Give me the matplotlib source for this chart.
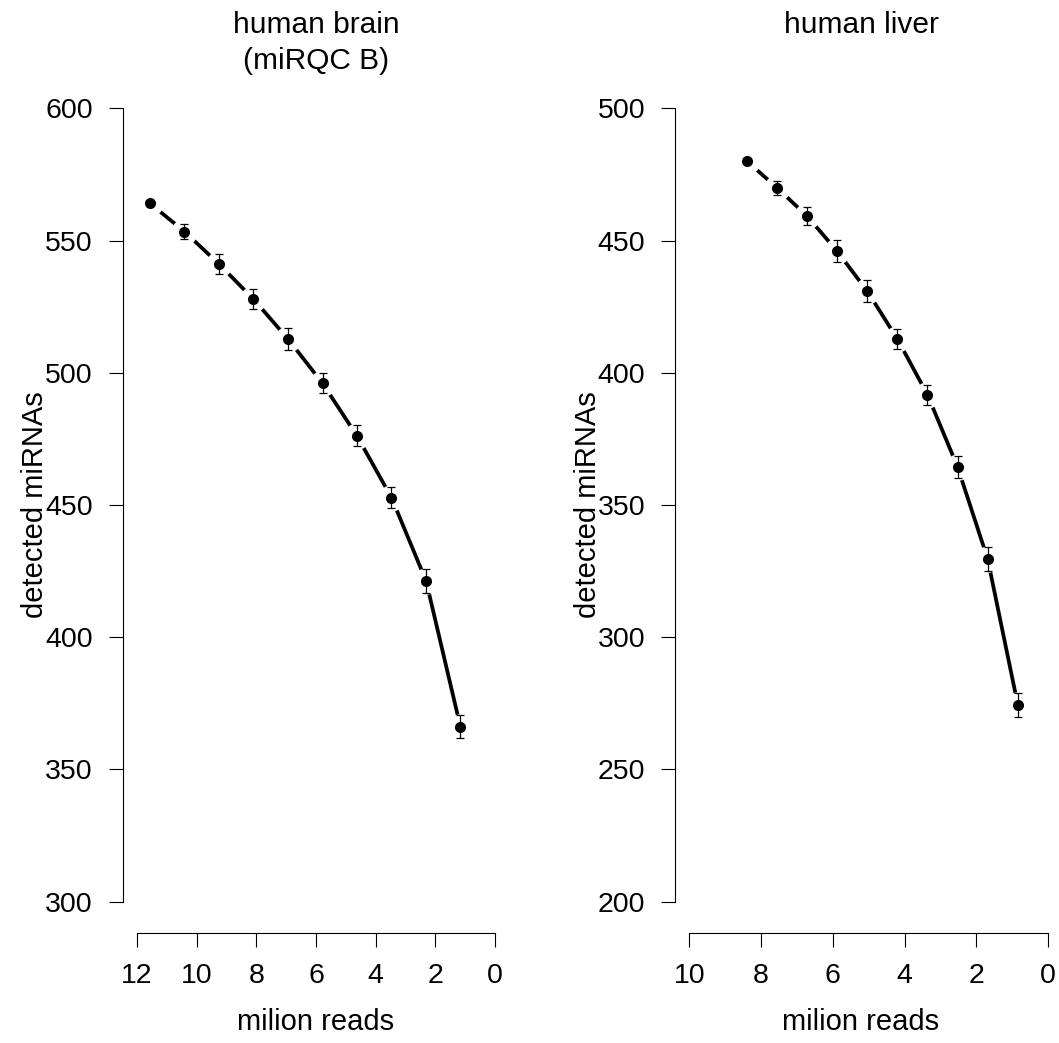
import matplotlib
matplotlib.use("Agg")
import matplotlib.pyplot as plt
import numpy as np

plt.rcParams['font.family'] = ['Liberation Sans', 'DejaVu Sans']

# ---- data ----
brain_reads = [11.57, 10.41, 9.25, 8.10, 6.94, 5.78, 4.63, 3.47, 2.31, 1.16]
brain_mirnas = [564.1, 553.4, 541.1, 527.9, 512.8, 496.0, 476.2, 452.8, 421.3, 366.2]
brain_err = [0.0, 2.8, 3.8, 3.6, 4.0, 3.8, 4.0, 3.9, 4.6, 4.2]

liver_reads = [8.40, 7.56, 6.72, 5.88, 5.04, 4.20, 3.36, 2.52, 1.68, 0.84]
liver_mirnas = [480.1, 470.0, 459.3, 446.0, 430.9, 412.8, 391.7, 364.4, 329.5, 274.4]
liver_err = [0.0, 2.6, 3.5, 4.2, 4.0, 3.9, 3.8, 4.3, 4.5, 4.5]

brain_xticks = [12, 10, 8, 6, 4, 2, 0]
brain_yticks = [300, 350, 400, 450, 500, 550, 600]
liver_xticks = [10, 8, 6, 4, 2, 0]
liver_yticks = [200, 250, 300, 350, 400, 450, 500]

brain_title = ["human brain", "(miRQC B)"]
liver_title = ["human liver"]
xlabel = "milion reads"
ylabel = "detected miRNAs"

W, H = 1059, 1043
fig = plt.figure(figsize=(W / 100, H / 100), dpi=100)

bottom = (H - 933.4) / H
height = (933.4 - 76.6) / H
ax1 = fig.add_axes([122.7 / W, bottom, (509.3 - 122.7) / W, height])
ax2 = fig.add_axes([675.0 / W, bottom, (1062.3 - 675.0) / W, height])

FS_TICK = 20.5
FS_LAB = 21
FS_TITLE = 21.5


def panel(ax, x, y, e, xt, yt):
    x = np.asarray(x); y = np.asarray(y); e = np.asarray(e)
    xr = max(xt) - min(xt)
    yr = max(yt) - min(yt)
    ax.set_xlim(max(xt) + 0.04 * xr, min(xt) - 0.04 * xr)
    ax.set_ylim(min(yt) - 0.04 * yr, max(yt) + 0.04 * yr)
    ax.plot(x, y, color='black', lw=2.7, solid_capstyle='round', zorder=2)
    ax.plot(x, y, 'o', color='white', ms=19, mew=0, zorder=3)
    ax.errorbar(x, y, yerr=e, fmt='none', ecolor='black', elinewidth=0.9,
                capsize=2.6, capthick=0.9, zorder=4)
    ax.plot(x, y, 'o', color='black', ms=8, mew=0, zorder=5)
    for s in ['top', 'right']:
        ax.spines[s].set_visible(False)
    for s in ['left', 'bottom']:
        ax.spines[s].set_linewidth(0.8)
    ax.spines['left'].set_bounds(min(yt), max(yt))
    ax.spines['bottom'].set_bounds(min(xt), max(xt))
    ax.set_xticks(xt)
    ax.set_yticks(yt)
    ax.tick_params(axis='both', direction='out', length=10, width=0.8,
                   labelsize=FS_TICK)
    ax.tick_params(axis='y', pad=11.5)
    ax.tick_params(axis='x', pad=11.0)
    ax.patch.set_alpha(0)


panel(ax1, brain_reads, brain_mirnas, brain_err, brain_xticks, brain_yticks)
panel(ax2, liver_reads, liver_mirnas, liver_err, liver_xticks, liver_yticks)

# titles (one text per line, placed on baselines)
line_y = [33.3, 69.0]
for lines, cx in [(brain_title, 316), (liver_title, 861)]:
    for txt, ly in zip(lines, line_y):
        fig.text(cx / W, 1 - ly / H, txt, ha='center', va='baseline',
                 fontsize=FS_TITLE)

# axis labels
for cx in [316, 861]:
    fig.text(cx / W, 1 - 1022 / H, xlabel, ha='center', va='center',
             fontsize=FS_LAB)
for cx in [35, 588]:
    fig.text(cx / W, 1 - 505 / H, ylabel, ha='center', va='center',
             rotation=90, fontsize=FS_LAB)

fig.savefig("out.png", dpi=100)
